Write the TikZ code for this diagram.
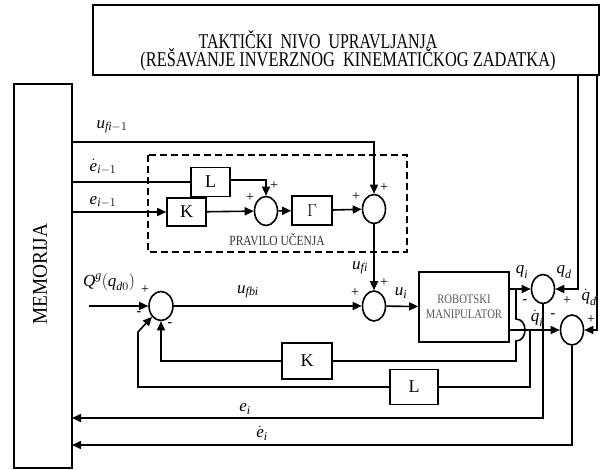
\documentclass[tikz,border=0pt]{standalone}
\usepackage{fontspec}
\usepackage{amsmath}
\setmainfont{Liberation Serif}
\usetikzlibrary{arrows.meta,shapes.geometric,calc}
\newcommand\tv[1]{\text{\itshape #1}}
\begin{document}
\begin{tikzpicture}[x=1pt,y=-1pt,
  ln/.style={line width=1.6pt},
  arr/.style={line width=1.6pt,-{Triangle[length=9pt,width=8pt]}},
  blk/.style={draw,line width=1.6pt,inner sep=0pt,font=\fontsize{18}{18}\selectfont},
  sum/.style={ellipse,draw,line width=1.6pt,minimum width=23pt,minimum height=29pt,inner sep=0pt},
  sgn/.style={inner sep=0pt,font=\fontsize{14}{14}\selectfont},
  lab/.style={inner sep=0pt,font=\fontsize{17}{17}\selectfont}]
\useasboundingbox (0,0) rectangle (600,470);
% blocks
\node[blk,minimum width=506pt,minimum height=70pt] (top) at (346,40) {};
\node[inner sep=0pt,font=\fontsize{21}{21}\selectfont] (t1) at (318,40) {\scalebox{0.76}[1]{TAKTIČKI\ \ NIVO\ \ UPRAVLJANJA}};
\node[inner sep=0pt,font=\fontsize{21}{21}\selectfont] (t2) at (348,60) {\scalebox{0.78}[1]{(REŠAVANJE INVERZNOG\ \ KINEMATIČKOG ZADATKA)}};
\node[blk,minimum width=58pt,minimum height=384pt] (mem) at (43,276) {};
\node[inner sep=0pt,rotate=90,font=\fontsize{21}{21}\selectfont] (memt) at (40,274) {\scalebox{0.92}[1]{MEMORIJA}};
\node[blk,minimum width=39pt,minimum height=29pt] (Lup) at (210.5,182) {L};
\node[blk,minimum width=39pt,minimum height=28pt] (Kup) at (186.5,212) {K};
\node[blk,minimum width=40pt,minimum height=29pt] (G) at (312,210.5) {$\Gamma$};
\node[sum] (s1) at (266,211) {};
\node[sum] (s2) at (374,209) {};
\node[sum,minimum width=24pt] (s0) at (161,306) {};
\node[sum,minimum height=30pt] (s3) at (374,306) {};
\node[blk,minimum width=90pt,minimum height=70pt,align=center,text=black!65,font=\fontsize{13}{15}\selectfont] (rob) at (464,307) {\scalebox{0.82}[1]{ROBOTSKI}\\\scalebox{0.82}[1]{MANIPULATOR}};
\node[sum] (s4) at (543,289) {};
\node[sum,minimum height=30pt] (s5) at (572,330) {};
\node[blk,minimum width=50pt,minimum height=36pt] (Kdn) at (307,361) {K};
\node[blk,minimum width=48pt,minimum height=35pt] (Ldn) at (414,387) {L};
\draw[line width=1.5pt,dash pattern=on 7pt off 4pt] (148,155) rectangle (407,252);
\node[inner sep=0pt,text=black!80,font=\fontsize{14}{14}\selectfont] (pu) at (277,240) {\scalebox{0.82}[1]{PRAVILO UČENJA}};
% coordinates
\coordinate (m1) at (72,142);
\coordinate (m2) at (72,182);
\coordinate (m3) at (72,212);
\coordinate (m4) at (72,418);
\coordinate (m5) at (72,445);
\coordinate (qin) at (89,306);
\coordinate (qdT) at (578,75);
\coordinate (qddT) at (597,75);
\coordinate (jq) at (516,289);
\coordinate (hop1) at (516,319);
\coordinate (hop2) at (516,341);
\coordinate (jqd) at (530,330);
\coordinate (lb) at (138,332);
% connectors
\draw[arr] (m1) -| (s2.north);
\draw[ln] (m2) -- (Lup.west);
\draw[arr] (m3) -- (Kup.west);
\draw[arr] (Lup.east |- 0,180) -| (s1.north);
\draw[arr] (Kup) -- (s1);
\draw[arr] (s1) -- (G);
\draw[arr] (G) -- (s2);
\draw[arr] (s2) -- (s3);
\draw[arr] (qin) -- (s0.west);
\draw[arr] (s0.east) -- (s3.west);
\draw[arr] (s3) -- (rob);
\draw[arr] (rob.east |- s4) -- (s4.west);
\draw[arr] (rob.east |- s5) -- (s5.west);
\draw[arr] (qdT) |- (s4.east);
\draw[arr] (qddT) |- (s5.east);
\draw[arr] (s4.south) |- (m4);
\draw[arr] (s5.south) |- (m5);
\draw[ln] (jq) -- (hop1) .. controls (528,319) and (528,341) .. (hop2) |- (Kdn.east);
\draw[arr] (Kdn.west) -| (s0.south);
\draw[ln] (jqd) |- (Ldn.east);
\draw[arr] (Ldn.west) -| (lb) -- (s0.south west);
% signs
\node[sgn] at (250,198) {+};
\node[sgn] at (274,186) {+};
\node[sgn] at (356,197) {+};
\node[sgn] at (384,188) {+};
\node[sgn] at (355,293) {+};
\node[sgn] at (384,283) {+};
\node[sgn] at (145,290) {+};
\node[sgn] at (139,314) {\textbf{-}};
\node[sgn] at (170,325) {\textbf{-}};
\node[sgn] at (525,302) {\textbf{-}};
\node[sgn] at (567,301) {+};
\node[sgn] at (553,316) {\textbf{-}};
\node[sgn] at (591,320) {+};
% labels
\node[lab] at (112,127) {$\tv{u}_{\tv{fi}-1}$};
\node[lab] at (103,167) {$\dot{\tv{e}}_{\tv{i}-1}$};
\node[lab] at (103,202) {$\tv{e}_{\tv{i}-1}$};
\node[lab] at (109,282) {$\tv{Q}^{\tv{g}}(\tv{q}_{\tv{d}0})$};
\node[lab] at (248,292) {$\tv{u}_{\tv{fbi}}$};
\node[lab] at (360,268) {$\tv{u}_{\tv{fi}}$};
\node[lab] at (401,293) {$\tv{u}_{\tv{i}}$};
\node[lab] at (522,272) {$\tv{q}_{\tv{i}}$};
\node[lab] at (564,272) {$\tv{q}_{\tv{d}}$};
\node[lab] at (537,318) {$\dot{\tv{q}}_{\tv{i}}$};
\node[lab] at (589,297) {$\dot{\tv{q}}_{\tv{d}}$};
\node[lab] at (245,409) {$\tv{e}_{\tv{i}}$};
\node[lab] at (262,433) {$\dot{\tv{e}}_{\tv{i}}$};
\end{tikzpicture}
\end{document}
